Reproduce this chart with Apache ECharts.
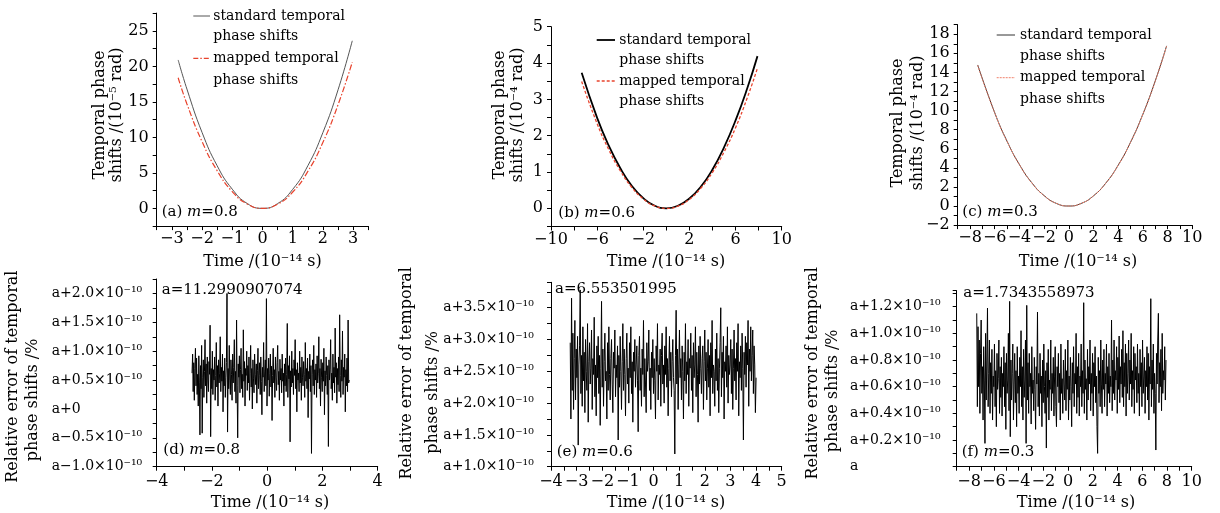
<!DOCTYPE html>
<html>
<head>
<meta charset="utf-8">
<script src="https://cdn.jsdelivr.net/npm/echarts@6/dist/echarts.min.js"></script>
<style>
html,body{margin:0;padding:0;background:#fff;}
#c{width:1220px;height:513px;}
</style>
</head>
<body>
<div id="c"></div>
<script>
// ---------- data ----------
// (a) m=0.8, temporal phase shifts /(1e-5 rad)
const tA = [-2.79,-2.5,-2,-1.5,-1,-0.5,0,0.5,1,1.5,2,2.5,2.97];
const aStd = [20.9,16.8,10.7,6.0,2.7,0.67,0,0.67,2.68,6.0,10.7,16.7,23.6];
const aMap = [18.4,14.7,9.4,5.3,2.35,0.6,0,0.58,2.3,5.2,9.3,14.6,20.6];
// (b) m=0.6, /(1e-4 rad)
const tB = [-7.34,-6,-5,-4,-3,-2,-1,0,1,2,3,4,5,6,7,7.9];
const bStd = [3.73,2.49,1.73,1.11,0.62,0.28,0.07,0,0.07,0.27,0.60,1.07,1.68,2.42,3.29,4.19];
const bMap = [3.49,2.33,1.62,1.04,0.58,0.26,0.065,0,0.062,0.25,0.56,0.99,1.55,2.22,3.03,3.86];
// (c) m=0.3, /(1e-4 rad)
const tC = [-7.38,-6,-5,-4,-3,-2,-1,0,1,2,3,4,5,6,7,7.92];
const cStd = [14.78,9.77,6.78,4.34,2.44,1.09,0.27,0,0.27,1.07,2.41,4.28,6.69,9.63,13.11,16.78];
const cMap = [14.74,9.75,6.76,4.33,2.43,1.08,0.27,0,0.27,1.07,2.40,4.27,6.68,9.62,13.09,16.75];

// relative error, offset from a, in units of 1e-10 % (evenly sampled over the time range)
const dTimeRange = [-2.72, 2.97];
const dErr = [
0.62,0.95,0.30,0.80,0.15,0.70,1.05,0.40,0.88,0.25,0.60,0.05,0.92,0.45,-0.45,0.75,0.35,1.10,-0.42,0.55,
0.85,0.20,0.65,1.20,0.40,0.78,0.10,0.90,0.50,0.30,0.82,0.60,1.45,-0.48,0.70,0.35,1.00,0.25,0.68,0.50,
0.90,0.15,0.58,1.15,0.38,0.75,0.05,0.85,0.45,0.62,1.25,0.30,0.72,0.48,0.95,-0.05,0.66,0.40,0.88,0.20,
0.55,0.80,2.00,-0.40,0.70,0.35,1.10,0.50,0.25,0.85,0.60,0.15,0.95,0.45,0.72,1.20,0.30,0.65,0.10,1.54,
0.40,-0.50,0.78,0.55,0.92,0.28,0.68,1.05,0.35,0.60,0.20,1.37,0.48,0.82,0.05,0.70,0.58,1.00,0.32,0.75,
0.45,0.90,0.15,0.62,1.10,0.38,0.70,0.00,0.85,0.52,0.28,0.95,0.60,0.42,0.78,0.10,0.66,1.05,0.35,0.58,
0.80,0.25,0.90,0.48,-0.10,0.72,0.55,1.15,0.30,0.64,0.85,0.40,1.91,0.05,0.70,0.50,0.88,0.22,0.62,0.95,
0.38,0.74,-0.20,0.58,1.05,0.45,0.68,0.20,0.90,0.55,0.32,0.80,1.10,0.42,0.65,0.15,0.86,0.50,0.70,0.28,
0.95,0.48,0.62,0.05,0.78,0.40,0.88,0.30,0.60,1.48,0.20,0.75,0.52,0.92,-0.57,0.66,0.38,1.00,0.45,0.70,
0.25,0.85,0.58,1.20,0.35,0.68,-0.05,0.80,0.50,0.62,0.30,1.00,0.45,0.72,0.15,0.90,0.55,0.40,0.82,0.60,
0.20,1.15,0.48,0.70,0.35,0.88,-0.15,0.65,0.52,0.95,0.30,0.75,-0.77,0.60,0.85,0.40,1.10,0.25,0.68,0.50,
0.78,0.20,0.92,0.45,0.62,1.25,0.35,0.70,0.05,0.86,0.55,0.30,0.80,0.48,1.05,-0.10,0.66,0.40,0.90,0.58,
0.25,0.75,-0.65,0.85,0.50,0.68,1.20,0.35,0.62,0.15,0.95,0.45,0.72,0.28,1.40,0.55,0.80,0.10,0.70,0.42,
0.90,0.30,1.63,0.58,0.20,0.85,0.48,1.35,0.25,0.72,0.55,0.95,-0.05,0.68,0.40,0.88,0.30,1.54,0.45,0.50];

const eTimeRange = [-3.25, 4.0];
const eErr = [
2.95,1.75,3.65,2.20,3.10,1.90,2.70,3.30,2.05,2.85,2.40,3.05,1.34,2.60,2.90,3.78,2.15,2.75,1.95,3.20,
2.35,2.80,1.85,3.00,2.50,2.20,3.25,1.70,2.65,2.95,2.30,2.55,3.15,1.90,2.70,2.45,3.35,2.10,2.60,1.80,
2.90,2.40,3.05,2.15,2.75,1.65,2.55,3.60,2.25,2.85,1.95,2.65,3.10,2.35,2.50,1.75,2.95,2.20,3.20,2.45,
2.05,2.70,3.00,2.30,1.85,2.80,2.55,3.15,2.10,2.60,2.40,2.90,1.42,2.75,2.25,3.05,2.50,1.90,2.65,3.25,
2.20,2.85,2.45,1.80,2.70,3.10,2.30,2.55,2.00,2.95,2.40,3.20,2.15,2.65,1.70,2.80,2.50,3.00,2.25,2.60,
2.90,2.35,1.55,2.75,3.05,2.20,2.55,1.95,2.85,2.45,3.30,2.10,2.70,2.30,1.85,2.95,2.50,2.65,3.15,2.20,
2.55,1.90,2.80,2.40,3.00,2.15,2.70,2.35,1.75,2.90,2.50,3.25,2.05,2.60,2.45,2.85,1.95,2.75,3.10,2.30,
2.60,2.00,2.90,2.45,3.20,2.25,2.70,1.80,2.55,3.05,2.35,2.80,2.10,2.65,3.00,2.40,2.20,1.20,2.75,3.46,
2.30,2.85,1.90,2.60,3.15,2.40,2.70,2.05,2.90,2.50,1.75,2.80,2.35,3.25,2.15,2.65,2.45,3.00,1.95,2.70,
2.55,3.10,2.20,2.75,1.85,2.95,2.40,2.60,3.20,2.10,2.80,2.45,1.70,2.90,2.30,3.05,2.55,2.15,2.70,2.90,
1.90,2.65,3.15,2.35,2.80,2.05,2.55,3.00,2.25,2.75,1.80,2.95,2.40,3.30,2.15,2.60,2.50,1.95,2.85,2.35,
3.10,2.20,2.70,1.85,2.55,2.95,3.50,2.10,2.80,2.40,3.05,1.75,2.65,2.50,2.90,2.25,3.20,2.00,2.75,2.45,
2.60,3.00,2.15,2.85,1.90,2.55,3.15,2.35,2.70,2.05,2.95,2.50,3.25,1.80,2.65,2.40,2.90,2.20,3.10,2.55,
1.42,2.80,2.45,3.05,2.25,2.95,2.60,3.30,1.95,2.85,2.50,3.20,2.35,2.75,3.15,2.15,2.90,2.60,1.85,2.40];

const fTimeRange = [-7.38, 7.92];
const fErr = [
1.15,0.45,1.05,0.60,0.95,0.40,0.85,1.10,0.55,0.75,0.35,0.90,0.65,0.175,1.00,0.50,0.80,1.19,0.45,0.70,
0.95,0.40,0.78,0.55,0.88,0.35,0.68,0.60,0.92,0.45,0.72,0.30,0.85,0.58,0.66,0.95,0.40,0.75,0.52,0.82,
0.38,0.70,0.60,0.90,0.45,0.78,0.28,0.85,0.55,0.65,1.00,0.42,1.24,0.225,0.80,0.50,0.70,0.92,0.35,0.62,
0.85,0.48,0.72,0.30,0.90,0.55,0.68,0.40,0.82,0.60,1.02,0.45,0.75,0.35,0.88,0.52,0.65,0.95,0.175,1.21,
0.50,0.78,0.40,0.85,0.60,0.70,0.32,0.90,0.55,0.65,0.42,0.82,0.58,0.28,0.75,0.62,1.16,0.45,0.70,0.38,
0.85,0.55,0.68,0.30,0.80,0.48,0.92,0.60,0.40,0.72,0.14,0.78,0.52,0.88,0.35,0.65,0.58,0.95,0.42,0.70,
0.55,0.82,0.38,0.68,0.90,0.45,0.30,0.75,0.60,0.85,0.48,0.70,0.35,0.92,0.55,0.66,0.40,0.80,0.62,0.50,
0.88,0.42,0.72,0.58,0.95,0.35,0.68,0.50,0.82,0.60,0.30,0.78,0.55,0.90,0.45,0.70,0.62,1.00,0.40,0.75,
0.52,0.85,0.38,0.68,0.60,0.92,0.45,0.72,0.55,1.23,0.40,0.80,0.58,0.66,0.35,0.88,0.50,0.75,0.62,0.95,
0.42,0.70,0.55,0.85,0.38,0.78,0.60,0.90,0.48,0.68,0.30,0.10,0.82,0.55,0.72,0.45,0.95,0.62,0.40,0.80,
0.58,0.88,0.45,0.70,0.62,0.92,0.38,0.75,0.55,0.85,0.48,0.68,0.60,1.10,0.42,0.80,0.55,0.95,0.50,0.72,
0.65,0.90,0.40,0.82,0.58,0.98,0.48,0.75,0.62,0.88,0.52,1.02,0.45,0.78,0.60,0.92,0.38,0.85,0.55,0.70,
0.95,0.50,0.80,0.62,1.00,0.45,0.72,0.58,0.90,0.40,0.85,0.65,0.75,0.48,0.92,0.55,0.70,0.38,0.88,0.60,
0.78,0.45,0.95,0.55,0.68,0.82,0.40,0.72,0.60,0.90,0.50,0.85,0.35,0.75,0.62,1.26,0.45,0.80,0.58,0.92,
0.40,0.70,0.55,0.125,0.85,0.62,0.95,1.15,0.48,0.78,0.60,0.88,0.42,1.00,0.55,0.72,0.65,0.90,0.50,0.80];

const aValues = ['a=11.2990907074','a=6.553501995','a=1.7343558973'];

// ---------- helpers ----------
const SERIF = '"DejaVu Serif", "Liberation Serif", serif';
function pairs(ts, vs){ return ts.map((t,i)=>[t, vs[i]]); }
function sampled(range, vs){
  const n = vs.length, step = (range[1]-range[0])/(n-1);
  return vs.map((v,i)=>[range[0]+i*step, v]);
}
function near(v, m){ const r = v/m; return Math.abs(r-Math.round(r)) < 1e-6; }
function num(v){ const r = Math.round(v*1000)/1000; return (r<0?'\u2212':'') + Math.abs(r); }
function errLab(v, showZeroAsA){
  const r = Math.round(v*100)/100;
  if (Math.abs(r) < 1e-9) return showZeroAsA ? 'a' : 'a+0';
  return (r>0?'a+':'a\u2212') + Math.abs(r).toFixed(1) + '\u00d710\u207b\u00b9\u2070';
}

function axisBase(){
  return {
    type:'value',
    axisLine:{show:true, onZero:false, lineStyle:{color:'#000', width:1}},
    axisTick:{show:true, inside:false, length:4, lineStyle:{color:'#000', width:1}},
    splitLine:{show:false},
  };
}
function xAx(gi, min, max, interval, every, margin, size){
  return Object.assign(axisBase(), {gridIndex:gi, min, max, interval,
    axisLabel:{color:'#000', fontFamily:SERIF, fontSize:size, margin,
      formatter: v => near(v, every) ? num(v) : ''}});
}
function yAxTop(gi, min, max, interval, every){
  return Object.assign(axisBase(), {gridIndex:gi, min, max, interval,
    axisLabel:{color:'#000', fontFamily:SERIF, fontSize:16, margin:8,
      formatter: v => near(v, every) ? num(v) : ''}});
}
function yAxBot(gi, min, max, interval, every, lo, hi, margin, zeroA){
  return Object.assign(axisBase(), {gridIndex:gi, min, max, interval,
    axisLabel:{color:'#000', fontFamily:SERIF, fontSize:14, margin, align:'left',
      formatter: v => (near(v, every) && v >= lo-1e-9 && v <= hi+1e-9) ? errLab(v, zeroA) : ''}});
}

const grids = [
  {left:156.7, top:13.1, width:211.6, height:213},
  {left:551, top:26.7, width:230.7, height:199.8},
  {left:957.7, top:24.7, width:234.6, height:200.4},
  {left:156.7, top:279, width:221, height:187.7},
  {left:551, top:282.3, width:230.7, height:184.4},
  {left:956.7, top:290.7, width:235, height:176}
];

const xAxes = [
  xAx(0, -3.5, 3.5, 0.5, 1, 5, 16),
  xAx(1, -10, 10, 2, 4, 5, 16),
  xAx(2, -9, 10, 1, 2, 5, 16),
  xAx(3, -4, 4, 1, 2, 7, 16),
  xAx(4, -4, 5, 0.5, 1, 7, 16),
  xAx(5, -9, 10, 1, 2, 7, 16)
];
// (b) labels at -10,-6,-2,2,6,10
xAxes[1].axisLabel.formatter = v => (near(v + 10, 4) ? num(v) : '');

const yAxes = [
  yAxTop(0, -2.5, 27.5, 2.5, 5),
  yAxTop(1, -0.5, 5, 0.5, 1),
  yAxTop(2, -2, 19, 1, 2),
  yAxBot(3, -1, 2.25, 0.25, 0.5, -1, 2, 105, false),
  yAxBot(4, 1, 3.9, 0.25, 0.5, 1, 3.5, 107.7, false),
  yAxBot(5, 0, 1.32, 0.1, 0.2, 0, 1.2, 106.7, true)
];

function line(gi, data, color, width, type, smooth){
  return {type:'line', xAxisIndex:gi, yAxisIndex:gi, data, showSymbol:false, symbol:'none',
    smooth: smooth ? 0.5 : false, lineStyle:{color, width, type: type || 'solid'}, silent:true};
}
const RED = '#e8432d';
const series = [
  line(0, pairs(tA, aStd), '#555', 1, 'solid', true),
  line(0, pairs(tA, aMap), RED, 1.2, [6,2,1.5,2], true),
  line(1, pairs(tB, bStd), '#000', 1.8, 'solid', true),
  line(1, pairs(tB, bMap), RED, 1.3, [3,2], true),
  line(2, pairs(tC, cStd), '#333', 1, 'solid', true),
  line(2, pairs(tC, cMap), '#f0806a', 1, [2,1], true),
  line(3, sampled(dTimeRange, dErr), '#000', 1),
  line(4, sampled(eTimeRange, eErr), '#000', 1),
  line(5, sampled(fTimeRange, fErr), '#000', 1)
];

// ---------- texts ----------
const G = [];
function txt(x, y, text, size, align, rot){
  const el = {type:'text', x, y, silent:true,
    style:{text, fontFamily:'DejaVu Serif', fontSize:size, fill:'#000',
      align: align || 'left', verticalAlign:'middle',
      rich:{i:{fontStyle:'italic', fontFamily:'DejaVu Serif', fontSize:size, fill:'#000'}}}};
  if (rot) el.rotation = Math.PI/2;
  return el;
}
function seg(x1, x2, y, color, width, dash){
  return {type:'line', silent:true, shape:{x1, y1:y, x2, y2:y},
    style:{stroke:color, lineWidth:width, lineDash:dash || null}};
}
// x-axis names
const timeName = 'Time /(10\u207b\u00b9\u2074 s)';
[[262.5,261.7],[666,261.7],[1078,261.7],[270,503],[666,503],[1076,503]].forEach(p=>G.push(txt(p[0],p[1],timeName,16,'center')));
// y-axis names
G.push(txt(100,115,'Temporal phase',16,'center',true));
G.push(txt(117,115,'shifts /(10\u207b\u2075 rad)',16,'center',true));
G.push(txt(500,115,'Temporal phase',16,'center',true));
G.push(txt(518.3,115,'shifts /(10\u207b\u2074 rad)',16,'center',true));
G.push(txt(898.3,123,'Temporal phase',16,'center',true));
G.push(txt(917.7,123,'shifts /(10\u207b\u2074 rad)',16,'center',true));
[[13.3,376.7,33.3,400],[406.7,373.3,433.3,392.5],[813.3,373.3,833.3,390.8]].forEach(p=>{
  G.push(txt(p[0],p[1],'Relative error of temporal',16,'center',true));
  G.push(txt(p[2],p[3],'phase shifts /%',16,'center',true));
});
// legends
G.push(seg(193.3,210,16,'#555',1));
G.push(txt(213.3,16,'standard temporal',14));
G.push(txt(213.3,36,'phase shifts',14));
G.push(seg(193.3,210,58.3,RED,1.2,[5,2,1.5,2]));
G.push(txt(213.3,58.3,'mapped temporal',14));
G.push(txt(213.3,80,'phase shifts',14));

G.push(seg(596.7,615,40,'#000',1.8));
G.push(txt(619.3,40,'standard temporal',14));
G.push(txt(619.3,60.7,'phase shifts',14));
G.push(seg(596.7,615,81,RED,1.3,[3,2]));
G.push(txt(619.3,81,'mapped temporal',14));
G.push(txt(619.3,101.7,'phase shifts',14));

G.push(seg(996.7,1015,35,'#333',1));
G.push(txt(1020,35,'standard temporal',14));
G.push(txt(1020,56.7,'phase shifts',14));
G.push(seg(996.7,1015,77.7,'#f0806a',1,[2,1]));
G.push(txt(1020,77.7,'mapped temporal',14));
G.push(txt(1020,99,'phase shifts',14));
// panel annotations
G.push(txt(161.7,211.7,'(a) {i|m}=0.8',15));
G.push(txt(558.3,212.7,'(b) {i|m}=0.6',15));
G.push(txt(962.3,211.7,'(c) {i|m}=0.3',15));
G.push(txt(163.3,450,'(d) {i|m}=0.8',15));
G.push(txt(556.7,451.7,'(e) {i|m}=0.6',15));
G.push(txt(961.7,451.7,'(f) {i|m}=0.3',15));
G.push(txt(161.7,290,aValues[0],15));
G.push(txt(555,289.3,aValues[1],15));
G.push(txt(963.3,293.3,aValues[2],15));

const chart = echarts.init(document.getElementById('c'), null, {renderer:'canvas'});
chart.setOption({
  animation:false,
  backgroundColor:'#fff',
  textStyle:{fontFamily:SERIF},
  grid: grids,
  xAxis: xAxes,
  yAxis: yAxes,
  series,
  graphic: G
});
</script>
</body>
</html>
